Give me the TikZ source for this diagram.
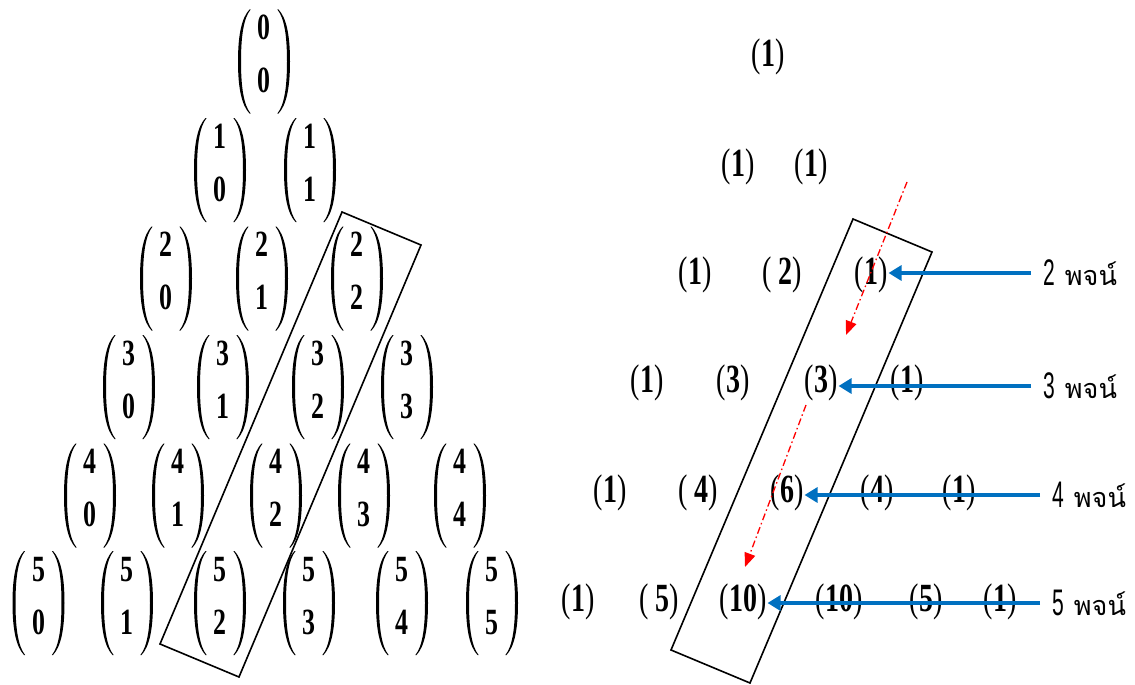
\documentclass[tikz,border=0pt]{standalone}
\usepackage{fontspec}
\usetikzlibrary{arrows.meta}
\newfontfamily\dgfam[FakeStretch=0.7]{Liberation Serif}
\newfontfamily\sdfam[FakeStretch=0.57]{Liberation Sans}
\newfontfamily\thaifam[Script=Thai]{Loma}
\definecolor{arrblue}{RGB}{0,112,192}
\newcommand\numf{\dgfam\fontsize{40}{44}\selectfont}
\newcommand\pn[1]{(\textbf{#1})}
\newcommand\bnm[2]{\dgfam\bfseries\fontsize{37}{53}\selectfont\begin{tabular}{@{}c@{}}#1\\#2\end{tabular}}
\newcommand\lbl[1]{{\sdfam\fontsize{37}{40}\selectfont #1}\hspace{10pt}{\thaifam\fontsize{27}{30}\selectfont พจน์}}
\tikzset{
  binom/.style={inner sep=0pt},
  num/.style={font=\numf, inner sep=1pt},
  lab/.style={inner xsep=12pt, inner ysep=2pt, anchor=west},
  frame/.style={draw=black, line width=1.6pt, line join=miter},
  barrow/.style={draw=arrblue, line width=3.2pt, -{Triangle[length=13pt,width=15pt]}},
  rarrow/.style={draw=red, line width=1.3pt, dash pattern=on 7pt off 3pt on 1.5pt off 3pt, -{Triangle[length=14pt,width=11pt]}},
  halfparen/.pic={
    \fill (-14.5,-52) .. controls (-22,-44) and (-26,-28) .. (-26,0)
          .. controls (-26,28) and (-22,44) .. (-14.5,52)
          -- (-13.4,52) .. controls (-19.8,44) and (-23,28) .. (-23,0)
          .. controls (-23,-28) and (-19.8,-44) .. (-13.4,-52) -- cycle;
  },
  bparens/.pic={
    \pic {halfparen};
    \pic[xscale=-1] {halfparen};
  },
}
\begin{document}
\begin{tikzpicture}[x=1pt,y=-1pt]
\useasboundingbox (0,0) rectangle (1135,685);
% ---- left: binomial coefficients (node y = paren centre - 6) ----
\node[binom] (b00) at (264,55.5) {\bnm{0}{0}};
\node[binom] (b10) at (220,164) {\bnm{1}{0}};
\node[binom] (b11) at (310,164) {\bnm{1}{1}};
\node[binom] (b20) at (166,272.5) {\bnm{2}{0}};
\node[binom] (b21) at (262,272.5) {\bnm{2}{1}};
\node[binom] (b22) at (357,272.5) {\bnm{2}{2}};
\node[binom] (b30) at (129,381) {\bnm{3}{0}};
\node[binom] (b31) at (223,381) {\bnm{3}{1}};
\node[binom] (b32) at (318,381) {\bnm{3}{2}};
\node[binom] (b33) at (407,381) {\bnm{3}{3}};
\node[binom] (b40) at (90,489.5) {\bnm{4}{0}};
\node[binom] (b41) at (178,489.5) {\bnm{4}{1}};
\node[binom] (b42) at (276,489.5) {\bnm{4}{2}};
\node[binom] (b43) at (364,489.5) {\bnm{4}{3}};
\node[binom] (b44) at (460,489.5) {\bnm{4}{4}};
\node[binom] (b50) at (38.5,597) {\bnm{5}{0}};
\node[binom] (b51) at (127,597) {\bnm{5}{1}};
\node[binom] (b52) at (220,597) {\bnm{5}{2}};
\node[binom] (b53) at (309,597) {\bnm{5}{3}};
\node[binom] (b54) at (402,597) {\bnm{5}{4}};
\node[binom] (b55) at (492,597) {\bnm{5}{5}};
\foreach \n in {b00,b10,b11,b20,b21,b22,b30,b31,b32,b33,b40,b41,b42,b43,b44,b50,b51,b52,b53,b54,b55}
  \pic at ([yshift=-6pt]\n.center) {bparens};
% left frame
\coordinate (la) at (342,212);
\coordinate (lb) at (421,245);
\coordinate (lc) at (239,677);
\coordinate (ld) at (160,644);
\draw[frame] (la) -- (lb) -- (lc) -- (ld) -- cycle;
% ---- right: numbers ----
\node[num] (r00) at (768,57) {\pn{1}};
\node[num] (r10) at (738,167) {\pn{1}};
\node[num] (r11) at (811,167) {\pn{1}};
\node[num] (r20) at (695,275) {\pn{1}};
\node[num] (r21) at (782,275) {(\,\textbf{2})};
\node[num] (r22) at (871,275) {\pn{1}};
\node[num] (r30) at (647,383) {\pn{1}};
\node[num] (r31) at (733,383) {\pn{3}};
\node[num] (r32) at (821,383) {\pn{3}};
\node[num] (r33) at (907,383) {\pn{1}};
\node[num] (r40) at (610,493) {\pn{1}};
\node[num] (r41) at (698,493) {(\,\textbf{4})};
\node[num] (r42) at (787,493) {\pn{6}};
\node[num] (r43) at (877,493) {\pn{4}};
\node[num] (r44) at (959,493) {\pn{1}};
\node[num] (r50) at (578,602) {\pn{1}};
\node[num] (r51) at (659,602) {(\,\textbf{5})};
\node[num] (r52) at (743,602) {\pn{10}};
\node[num] (r53) at (839,602) {\pn{10}};
\node[num] (r54) at (926,602) {\pn{5}};
\node[num] (r55) at (1000,602) {\pn{1}};
% right frame
\coordinate (ra) at (853,219);
\coordinate (rb) at (932,252);
\coordinate (rc) at (750,683);
\coordinate (rd) at (671,650);
\draw[frame] (ra) -- (rb) -- (rc) -- (rd) -- cycle;
% red dash-dot arrows
\coordinate (p1) at (907,182);
\coordinate (q1) at (846,335);
\coordinate (p2) at (806,405);
\coordinate (q2) at (745,567);
\draw[rarrow] (p1) -- (q1);
\draw[rarrow] (p2) -- (q2);
% labels
\node[lab] (l2) at (1031,273) {\lbl{2}};
\node[lab] (l3) at (1031,386) {\lbl{3}};
\node[lab] (l4) at (1040,495) {\lbl{4}};
\node[lab] (l5) at (1040,603) {\lbl{5}};
% blue arrows
\draw[barrow] (l2.west) -- (l2.west -| r22.east);
\draw[barrow] (l3.west) -- (l3.west -| r32.east);
\draw[barrow] (l4.west) -- (l4.west -| r42.east);
\draw[barrow] (l5.west) -- (l5.west -| r52.east);
\end{tikzpicture}
\end{document}
